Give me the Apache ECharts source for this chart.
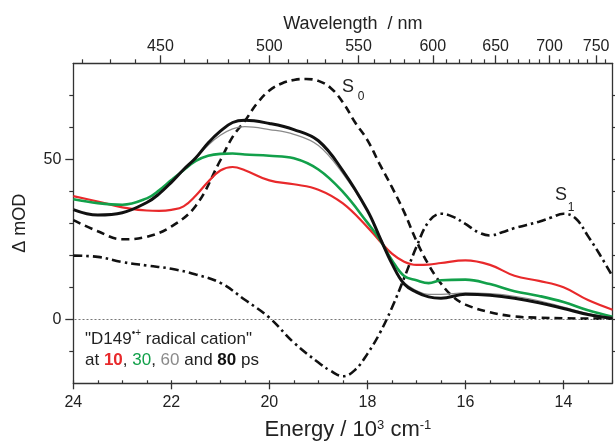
<!DOCTYPE html>
<html>
<head>
<meta charset="utf-8">
<script src="https://cdn.jsdelivr.net/npm/echarts@6/dist/echarts.min.js"></script>
<style>
html,body{margin:0;padding:0;background:#fff;}
#chart{width:615px;height:442px;}
</style>
</head>
<body>
<div id="chart"></div>
<script>
// ---- data (energy in 10^3 cm^-1, ΔmOD) ----
const energy = [24, 23.5, 23, 22.5, 22.25, 22, 21.75, 21.5, 21.25, 21, 20.75, 20.5, 20, 19.5, 19, 18.5, 18, 17.75, 17.5, 17.25, 17, 16.75, 16.5, 16, 15.5, 15, 14.5, 14, 13.5, 13];
const red10   = [38.5, 36.8, 35, 34, 33.9, 34.2, 35.3, 38.7, 43, 46.5, 47.6, 46.6, 43.4, 42.2, 40.5, 36.2, 28.8, 24.5, 20.5, 18, 17, 17.1, 17.6, 18.4, 17, 13.6, 12, 10, 6, 3];
const green30 = [37.5, 36.3, 35.8, 37.8, 40.3, 43.5, 46.6, 49.5, 51.1, 51.7, 51.8, 51.5, 51.1, 50.3, 46.8, 39.8, 30.2, 25, 18.5, 13.5, 12.2, 11.3, 12.2, 12.4, 11, 8.8, 7.3, 5.4, 2.8, 0.8];
const gray60  = [34.3, 32.6, 33.3, 36.5, 39.2, 42.8, 46.8, 50.2, 54.4, 57.5, 59.5, 60.2, 59.3, 57.8, 54.3, 45.5, 34, 26, 17.5, 11.5, 9, 7.8, 7.8, 8.3, 8, 7.2, 5.8, 3.8, 1.8, 0.5];
const black80 = [34.3, 32.6, 33.3, 36.5, 39.2, 42.8, 46.8, 50.5, 55.1, 58.8, 61.5, 62.2, 61.2, 59.3, 55.8, 46.4, 34, 25.7, 17.4, 11, 8.5, 7, 6.6, 7.8, 7.5, 6.6, 5.2, 3.4, 1.5, 0.3];

const s0Energy = [24, 23.5, 23, 22.5, 22, 21.5, 21, 20.75, 20.5, 20.25, 20, 19.75, 19.5, 19.25, 19, 18.75, 18.5, 18.25, 18, 17.75, 17.5, 17.25, 17, 16.75, 16.5, 16.25, 16, 15.5, 15, 14.5, 14, 13.5, 13];
const s0Values = [31, 27.5, 25, 25.8, 29, 35.5, 49.7, 57, 62, 67.5, 71.5, 73.7, 74.8, 75.1, 74.5, 72.3, 67.8, 61.5, 56, 48.5, 41.3, 33.5, 24.5, 17, 11.2, 7, 4.6, 2.2, 0.9, 0.5, 0.3, 0.2, 0.2];

const s1Energy = [24, 23.5, 23, 22.5, 22, 21.5, 21, 20.5, 20, 19.5, 19, 18.75, 18.5, 18.25, 18, 17.75, 17.5, 17.25, 17, 16.75, 16.5, 16.25, 16, 15.75, 15.5, 15.25, 15, 14.5, 14.25, 14, 13.75, 13.5, 13.25, 13];
const s1Values = [19.9, 19.5, 17.9, 16.8, 15.8, 14, 11.4, 6.1, 0.5, -7.3, -13.5, -16.1, -17.8, -15.8, -10.8, -4.4, 3.6, 12.9, 22.6, 30.5, 33, 32, 29.8, 27.3, 26.2, 27.2, 28.5, 30.5, 31.8, 33, 31.5, 26, 20, 13.4];

// ---- tick labels ----
const energyTickLabels = [24, 22, 20, 18, 16, 14];
const wavelengthTickLabels = [450, 500, 550, 600, 650, 700, 750];
const wavelengthMinorTicks = [420, 430, 440, 460, 470, 480, 490, 510, 520, 530, 540, 560, 570, 580, 590, 610, 620, 630, 640, 660, 670, 680, 690, 710, 720, 730, 740, 760];
const yTickLabels = [0, 50];
const yMinorTicks = [-10, 10, 20, 30, 40, 60, 70];
const yRightTicks = [-10, 0, 10, 20, 30, 40, 50, 60, 70];

const toEnergy = nm => 10000 / nm;   // nm -> 10^3 cm^-1
const zip = (xs, ys) => xs.map((x, i) => [x, ys[i]]);

const FONT = '"Liberation Sans", Arial, Helvetica, sans-serif';
const TXT = '#222';
const AX = {lineStyle: {color: '#333', width: 1.3}};

const chart = echarts.init(document.getElementById('chart'), null, {renderer: 'canvas'});
const xBase = {type: 'value', min: 13, max: 24, inverse: true, splitLine: {show: false}};
const yBase = {type: 'value', min: -20, max: 80, splitLine: {show: false}};

chart.setOption({
  animation: false,
  backgroundColor: '#fff',
  textStyle: {fontFamily: FONT, color: TXT},
  grid: {left: 73.3, right: 2.5, top: 63.3, bottom: 58.7, containLabel: false, outerBoundsMode: 'none'},
  xAxis: [
    Object.assign({}, xBase, {
      position: 'bottom', offset: 0,
      axisLine: Object.assign({show: true, onZero: false}, AX),
      axisTick: {show: true, inside: false, length: 6, customValues: energyTickLabels, lineStyle: {color: '#333', width: 1.3}},
      axisLabel: {show: true, customValues: energyTickLabels, fontSize: 16, color: TXT, fontFamily: FONT, margin: 11},
      name: 'Energy / 10{sup|3} cm{sup|-1}',
      nameLocation: 'middle', nameGap: 36,
      nameTextStyle: {fontSize: 22, color: TXT, fontFamily: FONT, padding: [0, 0, 0, 10],
        rich: {sup: {fontSize: 13, color: TXT, fontFamily: FONT, verticalAlign: 'top', lineHeight: 13}}}
    }),
    Object.assign({}, xBase, {
      position: 'bottom', offset: 0,
      axisLine: {show: false, onZero: false},
      interval: 0.5,
      axisTick: {show: true, inside: true, length: 3, lineStyle: {color: '#333', width: 1.2}},
      axisLabel: {show: false}
    }),
    Object.assign({}, xBase, {
      position: 'top', offset: 0,
      axisLine: Object.assign({show: true, onZero: false}, AX),
      axisTick: {show: true, inside: false, length: 8, customValues: wavelengthTickLabels.map(toEnergy), lineStyle: {color: '#333', width: 1.3}},
      axisLabel: {show: true, customValues: wavelengthTickLabels.map(toEnergy), fontSize: 16, color: TXT, fontFamily: FONT, margin: 9,
        formatter: v => String(Math.round(10000 / v))},
      name: 'Wavelength  / nm',
      nameLocation: 'middle', nameGap: 30,
      nameTextStyle: {fontSize: 18, color: TXT, fontFamily: FONT, padding: [0, 0, 0, 20]}
    }),
    Object.assign({}, xBase, {
      position: 'top', offset: 0,
      axisLine: {show: false, onZero: false},
      axisTick: {show: true, inside: false, length: 4, customValues: wavelengthMinorTicks.map(toEnergy), lineStyle: {color: '#333', width: 1.2}},
      axisLabel: {show: false}
    })
  ],
  yAxis: [
    Object.assign({}, yBase, {
      position: 'left', offset: 0,
      axisLine: Object.assign({show: true, onZero: false}, AX),
      axisTick: {show: true, inside: false, length: 8, customValues: yTickLabels, lineStyle: {color: '#333', width: 1.3}},
      axisLabel: {show: true, customValues: yTickLabels, fontSize: 16, color: TXT, fontFamily: FONT, margin: 12},
      name: 'Δ mOD', nameLocation: 'middle', nameGap: 44, nameRotate: 90,
      nameTextStyle: {fontSize: 18, color: TXT, fontFamily: FONT}
    }),
    Object.assign({}, yBase, {
      position: 'left', offset: 0,
      axisLine: {show: false, onZero: false},
      axisTick: {show: true, inside: false, length: 4, customValues: yMinorTicks, lineStyle: {color: '#333', width: 1.2}},
      axisLabel: {show: false}
    }),
    Object.assign({}, yBase, {
      position: 'right', offset: 0,
      axisLine: Object.assign({show: true, onZero: false}, AX),
      axisTick: {show: true, inside: false, length: 4, customValues: yRightTicks, lineStyle: {color: '#333', width: 1.2}},
      axisLabel: {show: false}
    })
  ],
  series: [
    {
      name: 'S1', type: 'line', xAxisIndex: 0, yAxisIndex: 0,
      data: zip(s1Energy, s1Values), showSymbol: false, smooth: 0.4, z: 2,
      lineStyle: {color: '#111', width: 2.6, type: [9, 4, 2.5, 4]}
    },
    {
      name: 'S0', type: 'line', xAxisIndex: 0, yAxisIndex: 0,
      data: zip(s0Energy, s0Values), showSymbol: false, smooth: 0.4, z: 3,
      lineStyle: {color: '#111', width: 2.6, type: [8, 5]},
      markLine: {
        silent: true, symbol: ['none', 'none'], label: {show: false},
        lineStyle: {color: '#777', width: 1, type: [2, 2]},
        data: [{yAxis: 0}]
      }
    },
    {
      name: '10 ps', type: 'line', xAxisIndex: 0, yAxisIndex: 0,
      data: zip(energy, red10), showSymbol: false, smooth: 0.4, z: 4,
      lineStyle: {color: '#e8292b', width: 2.2}
    },
    {
      name: '30 ps', type: 'line', xAxisIndex: 0, yAxisIndex: 0,
      data: zip(energy, green30), showSymbol: false, smooth: 0.4, z: 5,
      lineStyle: {color: '#12a04a', width: 2.6}
    },
    {
      name: '60 ps', type: 'line', xAxisIndex: 0, yAxisIndex: 0,
      data: zip(energy, gray60), showSymbol: false, smooth: 0.4, z: 6,
      lineStyle: {color: '#8a8a8a', width: 1.2}
    },
    {
      name: '80 ps', type: 'line', xAxisIndex: 0, yAxisIndex: 0,
      data: zip(energy, black80), showSymbol: false, smooth: 0.4, z: 7,
      lineStyle: {color: '#111', width: 3}
    }
  ],
  graphic: [
    {type: 'text', x: 348, y: 87, z: 100, style: {text: 'S', fontSize: 18, fontFamily: FONT, fill: TXT, align: 'center', verticalAlign: 'middle', textAlign: 'center', textVerticalAlign: 'middle'}},
    {type: 'text', x: 361, y: 97, z: 100, style: {text: '0', fontSize: 12, fontFamily: FONT, fill: TXT, align: 'center', verticalAlign: 'middle', textAlign: 'center', textVerticalAlign: 'middle'}},
    {type: 'text', x: 561, y: 195, z: 100, style: {text: 'S', fontSize: 18, fontFamily: FONT, fill: TXT, align: 'center', verticalAlign: 'middle', textAlign: 'center', textVerticalAlign: 'middle'}},
    {type: 'text', x: 571, y: 208, z: 100, style: {text: '1', fontSize: 12, fontFamily: FONT, fill: TXT, align: 'center', verticalAlign: 'middle', textAlign: 'center', textVerticalAlign: 'middle'}},
    {type: 'text', x: 85, y: 338, z: 100, style: {
      text: '{n|"D149}{sup|•+}{n| radical cation"}',
      align: 'left', verticalAlign: 'middle', textAlign: 'left', textVerticalAlign: 'middle',
      fontSize: 17, fontFamily: FONT, fill: TXT,
      rich: {
        n: {fontSize: 17, fontFamily: FONT, fill: TXT, color: TXT, verticalAlign: 'bottom', lineHeight: 20},
        sup: {fontSize: 10, fontFamily: FONT, fill: TXT, color: TXT, verticalAlign: 'top', lineHeight: 10}
      }
    }},
    {type: 'text', x: 85, y: 360, z: 100, style: {
      text: '{n|at }{r|10}{n|, }{g|30}{n|, }{k|60}{n| and }{b|80}{n| ps}',
      align: 'left', verticalAlign: 'middle', textAlign: 'left', textVerticalAlign: 'middle',
      fontSize: 17, fontFamily: FONT, fill: TXT,
      rich: {
        n: {fontSize: 17, fontFamily: FONT, fill: TXT, color: TXT},
        r: {fontSize: 17, fontFamily: FONT, fill: '#e8292b', color: '#e8292b', fontWeight: 'bold'},
        g: {fontSize: 17, fontFamily: FONT, fill: '#12a04a', color: '#12a04a'},
        k: {fontSize: 17, fontFamily: FONT, fill: '#8a8a8a', color: '#8a8a8a'},
        b: {fontSize: 17, fontFamily: FONT, fill: '#111', color: '#111', fontWeight: 'bold'}
      }
    }}
  ]
});
</script>
</body>
</html>
